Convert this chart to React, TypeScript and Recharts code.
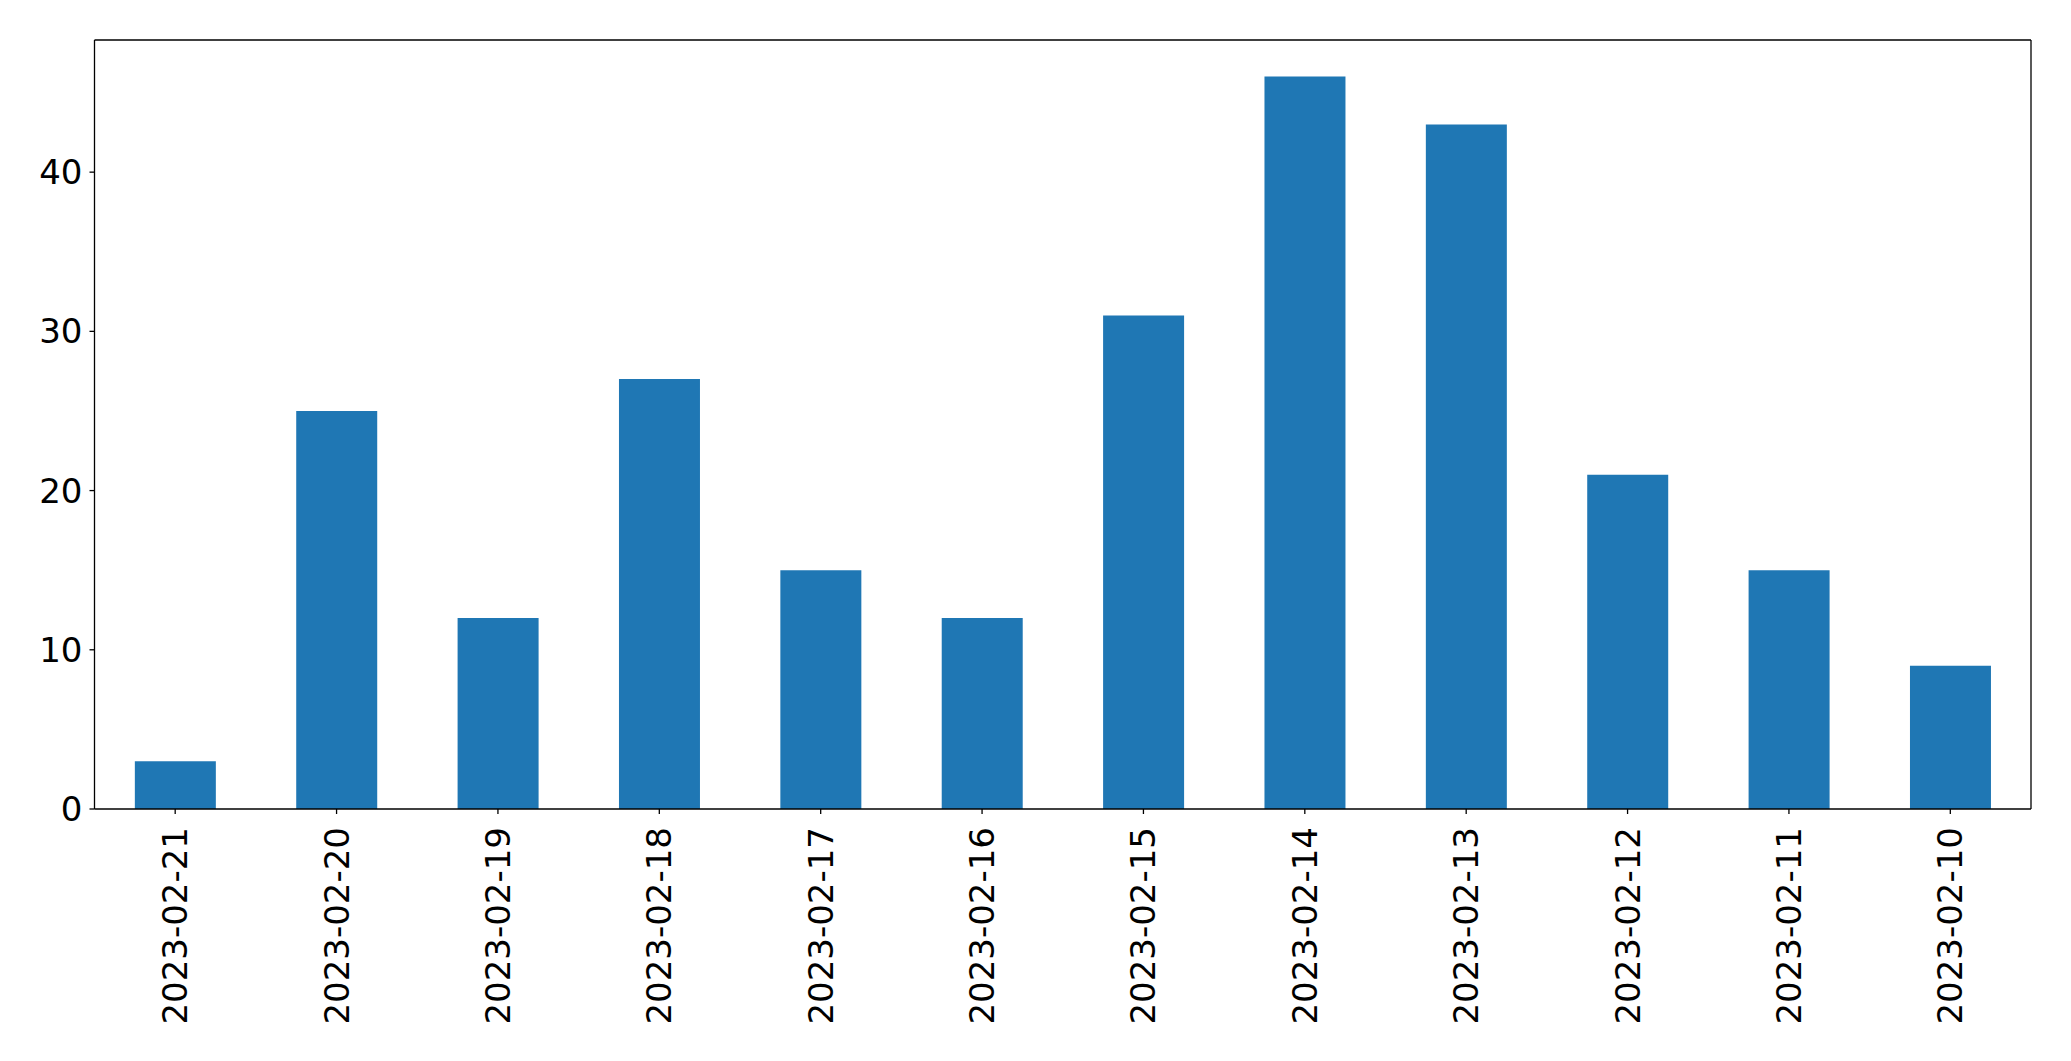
import { Bar, BarChart, XAxis, YAxis } from "recharts";

const dates = [
  "2023-02-21",
  "2023-02-20",
  "2023-02-19",
  "2023-02-18",
  "2023-02-17",
  "2023-02-16",
  "2023-02-15",
  "2023-02-14",
  "2023-02-13",
  "2023-02-12",
  "2023-02-11",
  "2023-02-10",
];
const counts = [3, 25, 12, 27, 15, 12, 31, 46, 43, 21, 15, 9];
const yTicks = [0, 10, 20, 30, 40];

const data = dates.map((d, i) => ({ date: d, count: counts[i] }));

const font = "'DejaVu Sans', sans-serif";
const fontSize = 34;
const frame = { stroke: "#000", strokeWidth: 1.3 };

function DateTick({ x, y, payload }: any) {
  return (
    <text
      x={x}
      y={y}
      transform={`rotate(-90, ${x}, ${y})`}
      textAnchor="end"
      dominantBaseline="central"
      fontFamily={font}
      fontSize={fontSize}
      fill="#000"
    >
      {payload.value}
    </text>
  );
}

export default function App() {
  return (
    <div style={{ position: "fixed", left: 0, top: 0, background: "#fff" }}>
      <BarChart
        width={2071}
        height={1061}
        data={data}
        margin={{ top: 39, right: 39, bottom: 0, left: 0 }}
        barCategoryGap="25%"
      >
        <XAxis
          dataKey="date"
          height={252}
          interval={0}
          tickSize={5}
          tickMargin={13}
          padding={{ left: 0, right: 0 }}
          axisLine={frame}
          tickLine={frame}
          tick={<DateTick />}
        />
        <XAxis
          xAxisId="top"
          dataKey="date"
          orientation="top"
          height={1}
          tick={false}
          tickLine={false}
          axisLine={frame}
        />
        <YAxis
          type="number"
          domain={[0, 48.3]}
          ticks={yTicks}
          width={94.5}
          tickSize={5}
          tickMargin={7}
          allowDataOverflow
          axisLine={frame}
          tickLine={frame}
          tick={{ fill: "#000", fontFamily: font, fontSize }}
        />
        <YAxis
          yAxisId="right"
          orientation="right"
          type="number"
          domain={[0, 48.3]}
          width={1}
          tick={false}
          tickLine={false}
          axisLine={frame}
        />
        <Bar dataKey="count" fill="#1f77b4" isAnimationActive={false} />
      </BarChart>
    </div>
  );
}
